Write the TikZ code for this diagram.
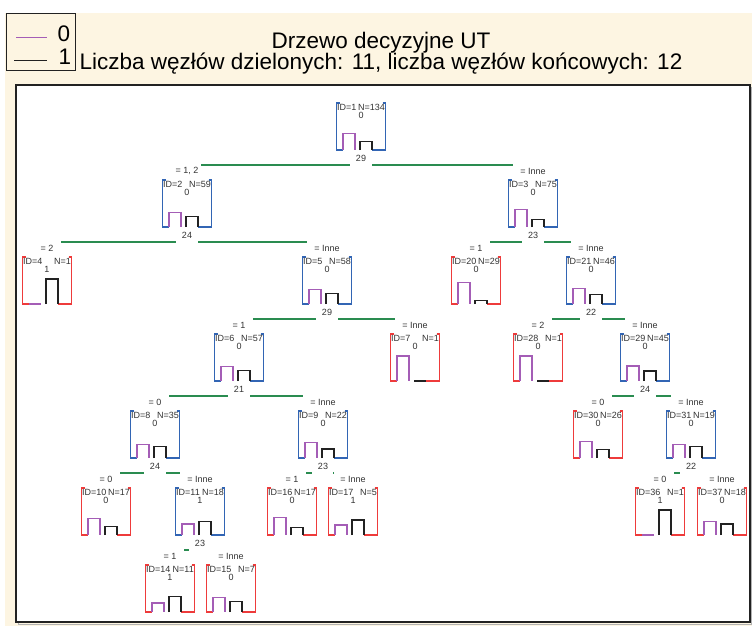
\documentclass[tikz,border=0pt]{standalone}
\usepackage{fontspec}
\setmainfont{Liberation Sans}
\definecolor{cream}{HTML}{FDF5E2}
\definecolor{tblue}{HTML}{3265B4}
\definecolor{tred}{HTML}{EE3B3B}
\definecolor{tgreen}{HTML}{2A8C50}
\definecolor{tpurple}{HTML}{A45DB6}
\definecolor{tdark}{HTML}{222222}
\definecolor{ttext}{HTML}{333333}
\tikzset{
  treebox/.style={draw=none, minimum width=49pt, minimum height=47pt, inner sep=0pt, outer sep=0pt},
  small/.style={font=\fontsize{9}{9}\selectfont, text=ttext, inner sep=0pt},
  gline/.style={draw=tgreen, line width=1.3pt},
  frameline/.style={line width=1.3pt, line join=miter},
  barzero/.style={draw=tpurple, line width=1.2pt},
  barone/.style={draw=tdark, line width=1.2pt},
  big/.style={font=\fontsize{22.5}{22.5}\selectfont, text=black, inner sep=0pt},
}
% name, cx, level, colour, ID, N, class, h0, h1
\newcommand{\TNode}[9]{%
  \pgfmathsetmacro{\TNtop}{103+77*#3}%
  \pgfmathsetmacro{\TNbot}{\TNtop+47}%
  \node[treebox] (#1) at (#2,{\TNtop+23.5}) {};
  \draw[frameline,#4] ({#2-21.5},\TNtop) -- ({#2-24.5},\TNtop) -- ({#2-24.5},\TNbot) -- ({#2-18},\TNbot);
  \draw[frameline,#4] ({#2+21.5},\TNtop) -- ({#2+24.5},\TNtop) -- ({#2+24.5},\TNbot) -- ({#2+11},\TNbot);
  \draw[barzero] ({#2-18},\TNbot) -- ({#2-18},{\TNbot-#8}) -- ({#2-6},{\TNbot-#8}) -- ({#2-6},\TNbot);
  \draw[barone] ({#2-1},\TNbot) -- ({#2-1},{\TNbot-#9}) -- ({#2+11},{\TNbot-#9}) -- ({#2+11},\TNbot);
  \node[small, anchor=west] (#1-id) at ({#2-24},{\TNtop+4.5}) {ID=#5};
  \node[small, anchor=east] (#1-n) at ({#2+24},{\TNtop+4.5}) {N=#6};
  \node[small] (#1-cl) at (#2,{\TNtop+12.5}) {#7};
}
\newcommand{\Cond}[2]{\node[small] (#1-cond) at ([yshift=9pt]#1.north) {#2};}
% parent, left child, right child, label
\newcommand{\Split}[4]{%
  \coordinate (#1-sl) at ([yshift=-15pt]#1.south);
  \node[small] (#1-lab) at ([yshift=-8pt]#1.south) {#4};
  \coordinate (#1-la) at ([xshift=14pt]#2.north);
  \coordinate (#1-ra) at ([xshift=-20pt]#3.north);
  \coordinate (#1-g1) at ([xshift=-11pt]#1-sl);
  \coordinate (#1-g2) at ([xshift=11pt]#1-sl);
  \draw[gline] (#1-la |- #1-sl) -- (#1-g1);
  \draw[gline] (#1-g2) -- (#1-ra |- #1-sl);
}
\begin{document}
\begin{tikzpicture}[x=1pt,y=-1pt]
\useasboundingbox (0,0) rectangle (752,626);
\fill[white] (0,0) rectangle (752,626);
\fill[cream] (5,13) rectangle (752,626);
% legend
\draw[line width=1pt, draw=tdark] (6,14) rectangle (75,71);
\coordinate (lg0a) at (16,38); \coordinate (lg0b) at (47,38);
\coordinate (lg1a) at (14,61); \coordinate (lg1b) at (47,61);
\draw[tpurple, line width=1pt] (lg0a) -- (lg0b);
\draw[tdark, line width=1pt] (lg1a) -- (lg1b);
\node[big] (lg0) at (64,34) {0};
\node[big] (lg1) at (65,57) {1};
% titles
\node[big] (title) at (381,43) {Drzewo decyzyjne UT};
\node[big] (subtitle) at (381,64) {Liczba węzłów dzielonych: 11, liczba węzłów końcowych: 12};
% plot frame
\draw[gray!60, line width=1pt] (18,87) rectangle (751,624);
\draw[fill=white, draw=tdark, line width=1.3pt] (16,85) rectangle (750,622);
% nodes
\TNode{n1}{361}{0}{tblue}{1}{134}{0}{16.2}{8.8}
\TNode{n2}{187}{1}{tblue}{2}{59}{0}{14.4}{10.6}
\TNode{n3}{533}{1}{tblue}{3}{75}{0}{17.7}{7.3}
\TNode{n4}{47}{2}{tred}{4}{1}{1}{0}{25}
\TNode{n5}{327}{2}{tblue}{5}{58}{0}{14.7}{10.3}
\TNode{n20}{476}{2}{tred}{20}{29}{0}{21.6}{3.4}
\TNode{n21}{591}{2}{tblue}{21}{46}{0}{15.2}{9.8}
\TNode{n6}{239}{3}{tblue}{6}{57}{0}{14.5}{10.5}
\TNode{n7}{415}{3}{tred}{7}{1}{0}{25}{0}
\TNode{n28}{538}{3}{tred}{28}{1}{0}{25}{0}
\TNode{n29}{645}{3}{tblue}{29}{45}{0}{15}{10}
\TNode{n8}{155}{4}{tblue}{8}{35}{0}{13.6}{11.4}
\TNode{n9}{323}{4}{tblue}{9}{22}{0}{15.9}{9.1}
\TNode{n30}{598}{4}{tred}{30}{26}{0}{16.3}{8.7}
\TNode{n31}{691}{4}{tblue}{31}{19}{0}{13.2}{11.8}
\TNode{n10}{106}{5}{tred}{10}{17}{0}{16.2}{8.8}
\TNode{n11}{200}{5}{tblue}{11}{18}{1}{11.1}{13.9}
\TNode{n16}{292}{5}{tred}{16}{17}{0}{17.6}{7.4}
\TNode{n17}{353}{5}{tred}{17}{5}{1}{10}{15}
\TNode{n36}{660}{5}{tred}{36}{1}{1}{0}{25}
\TNode{n37}{722}{5}{tred}{37}{18}{0}{13.9}{11.1}
\TNode{n14}{170}{6}{tred}{14}{11}{1}{9.1}{15.9}
\TNode{n15}{231}{6}{tred}{15}{7}{0}{14.3}{10.7}
% conditions
\Cond{n2}{= 1, 2} \Cond{n3}{= Inne}
\Cond{n4}{= 2} \Cond{n5}{= Inne} \Cond{n20}{= 1} \Cond{n21}{= Inne}
\Cond{n6}{= 1} \Cond{n7}{= Inne} \Cond{n28}{= 2} \Cond{n29}{= Inne}
\Cond{n8}{= 0} \Cond{n9}{= Inne} \Cond{n30}{= 0} \Cond{n31}{= Inne}
\Cond{n10}{= 0} \Cond{n11}{= Inne} \Cond{n16}{= 1} \Cond{n17}{= Inne}
\Cond{n36}{= 0} \Cond{n37}{= Inne}
\Cond{n14}{= 1} \Cond{n15}{= Inne}
% splits
\Split{n1}{n2}{n3}{29}
\Split{n2}{n4}{n5}{24}
\Split{n3}{n20}{n21}{23}
\Split{n5}{n6}{n7}{29}
\Split{n21}{n28}{n29}{22}
\Split{n6}{n8}{n9}{21}
\Split{n29}{n30}{n31}{24}
\Split{n8}{n10}{n11}{24}
\Split{n9}{n16}{n17}{23}
\Split{n31}{n36}{n37}{22}
\Split{n11}{n14}{n15}{23}
\end{tikzpicture}
\end{document}
